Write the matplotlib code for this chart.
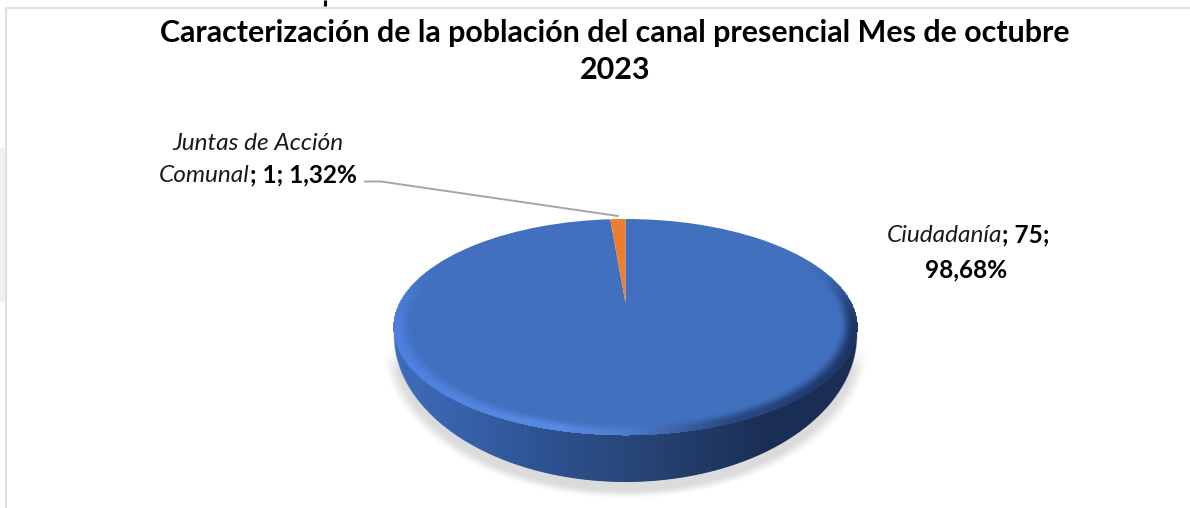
import matplotlib

matplotlib.use("Agg")
import matplotlib.pyplot as plt
import numpy as np
from matplotlib.path import Path
from matplotlib.transforms import Transform

categories = ["Juntas de Acción Comunal", "Ciudadanía"]
values = [1, 75]
slice_colors = ["#ED7D31", "#4170BF"]
title = "Caracterización de la población del canal presencial Mes de octubre\n2023"

W, H = 1190, 508

# disc placement, in pixels
CX = 625.5
TOP, APEX, BOTTOM = 219.0, 303.0, 435.0
HALF_WIDTH = 231.5

# projective map of the unit circle onto the tilted disc
C = ((TOP + BOTTOM) - 2 * APEX) / (BOTTOM - TOP)
A = TOP * (1 + C) - APEX
S = HALF_WIDTH * np.sqrt(1 - C**2)


class DiskProjection(Transform):
    input_dims = 2
    output_dims = 2
    is_separable = False

    def transform_non_affine(self, xy):
        xy = np.asarray(xy)
        w = 1 + C * xy[:, 1]
        return np.column_stack((CX + S * xy[:, 0] / w, (A * xy[:, 1] + APEX) / w))

    def transform_path_non_affine(self, path):
        return Path(self.transform_non_affine(path.vertices), path.codes)


def smooth(a, b, x):
    t = np.clip((x - a) / (b - a), 0, 1)
    return t * t * (3 - 2 * t)


def lerp(stops, t):
    # piecewise colour ramp, stops are (pos, hex)
    pos = [s[0] for s in stops]
    rgb = np.array([matplotlib.colors.to_rgb(s[1]) for s in stops])
    return np.dstack([np.interp(t, pos, rgb[:, i]) for i in range(3)])


plt.rcParams["font.family"] = ["Lato", "DejaVu Sans"]
fig = plt.figure(figsize=(W / 100, H / 100), dpi=100, facecolor="white")
ax = fig.add_axes([0, 0, 1, 1])

px, py = np.meshgrid(np.arange(W) + 0.5, np.arange(H) + 0.5)
t = (px - (CX - HALF_WIDTH)) / (2 * HALF_WIDTH)

# face coordinates of every pixel
ty = (py - APEX) / (A - C * py)
tx = (px - CX) * (1 + C * ty) / S
r = np.hypot(tx, ty)

# ground shadow below the disc, only the front part shows
shadow_r = np.hypot((px - CX) / 238, (py - 345) / 150)
shadow = np.zeros((H, W, 4))
shadow[..., :3] = 0.72
shadow[..., 3] = 0.5 * (1 - smooth(0.96, 1.03, shadow_r)) * smooth(345, 375, py)
ax.imshow(shadow, extent=(0, W, H, 0), zorder=1, interpolation="bilinear")

# side wall, darker to the right; its lower edge is a deeper half ellipse
wall_r = np.hypot((px - CX) / HALF_WIDTH, (py - 335) / 147)
side = np.zeros((H, W, 4))
side[..., :3] = lerp([(0, "#3F6DBB"), (0.3, "#2F5596"), (0.55, "#264373"),
                      (0.8, "#1B2F56"), (1, "#1A2E55")], t)
side[..., 3] = smooth(1.004, 0.996, wall_r) * (py > 320)
ax.imshow(side, extent=(0, W, H, 0), zorder=2, interpolation="bilinear")

# the slices, starting at twelve o'clock and running clockwise
wedges, _ = ax.pie(values[::-1], colors=slice_colors[::-1], startangle=90, counterclock=False,
                   wedgeprops={"linewidth": 0})
for w in wedges:
    w.set_transform(DiskProjection() + ax.transData)
    w.set_zorder(3)

# bevel along the rim of the top face, fades out towards the back
front = smooth(0.45, -0.25, ty)
rim = np.zeros((H, W, 4))
rim[..., :3] = lerp([(0, "#4D80DC"), (0.35, "#5A8BE4"), (0.5, "#4F7CCB"),
                     (0.72, "#2A4A85"), (1, "#1D3564")], t)
rim[..., 3] = smooth(0.925, 0.985, r) * front * (r <= 1.003)
ax.imshow(rim, extent=(0, W, H, 0), zorder=4, interpolation="bilinear")

ax.set_aspect("auto")
ax.set_xlim(0, W)
ax.set_ylim(H, 0)
ax.axis("off")

# chart frame and the pale block left of it
ax.fill_between([0, 5], 148, 302, color="#F1F1F1", lw=0, zorder=1)
ax.plot([5.5, 5.5, 1190], [508, 7.5, 7.5], color="#E0E0E0", lw=1.6, zorder=1)
# tail of a cut-off line of text above the frame
ax.plot([325, 325], [0, 5.5], color="black", lw=2.2, solid_capstyle="butt", zorder=5)

ax.text(615, 33, title.split("\n")[0], ha="center", va="center", fontsize=21.9, fontweight="bold", color="black", zorder=6)
ax.text(615, 70, title.split("\n")[1], ha="center", va="center", fontsize=21.9, fontweight="bold", color="black", zorder=6)

shares = [100 * v / sum(values) for v in values]
pct = [f"{s:.2f}".replace(".", ",") + "%" for s in shares]

LABEL_SIZE = 17.6

# small slice label with leader line
ax.text(258, 143, "Juntas de Acción", ha="center", va="center", fontsize=LABEL_SIZE, style="italic", color="#1A1A1A", zorder=6)
ax.text(250, 175, "Comunal", ha="right", va="center", fontsize=LABEL_SIZE, style="italic", color="#1A1A1A", zorder=6)
ax.text(250, 175, f"; {values[0]}; {pct[0]}", ha="left", va="center", fontsize=LABEL_SIZE, fontweight="bold", color="black", zorder=6)
ax.plot([365, 381, 618], [181.5, 181.5, 216], color="#A6A6A6", lw=1.4, zorder=6)

# large slice label
ax.text(1002, 235, "Ciudadanía", ha="right", va="center", fontsize=LABEL_SIZE, style="italic", color="#1A1A1A", zorder=6)
ax.text(1002, 235, f"; {values[1]};", ha="left", va="center", fontsize=LABEL_SIZE, fontweight="bold", color="black", zorder=6)
ax.text(966, 270, pct[1], ha="center", va="center", fontsize=LABEL_SIZE, fontweight="bold", color="black", zorder=6)

fig.savefig("out.png", dpi=100)
